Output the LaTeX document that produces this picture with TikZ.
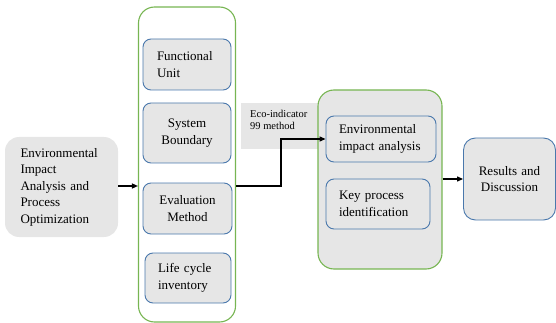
\documentclass[tikz,border=0pt]{standalone}
\usepackage{fontspec}
\setmainfont{Liberation Serif}
\usetikzlibrary{arrows.meta,calc}
\definecolor{boxgray}{HTML}{E6E6E6}
\definecolor{boxblue}{HTML}{4A78AC}
\definecolor{boxgreen}{HTML}{77B552}
\tikzset{
  x=1pt,y=-1pt,
  lbl/.style={font=\fontsize{13}{16.5}\selectfont},
  graybox/.style={lbl,fill=boxgray,rounded corners=14pt,inner sep=0pt},
  bluebox/.style={lbl,draw=boxblue,line width=0.9pt,fill=boxgray,rounded corners=8pt,inner sep=0pt},
  greenbox/.style={draw=boxgreen,line width=1.1pt,rounded corners=16pt,inner sep=0pt},
  conn/.style={line width=1.2pt,-{Triangle[length=6pt,width=5pt]}},
}
\begin{document}
\begin{tikzpicture}
\useasboundingbox (0,0) rectangle (556,323);
% left box
\node[graybox,minimum width=113pt,minimum height=100pt] (eia) at (61.5,187) {};
\node[lbl,align=left,text width=84pt,anchor=center] (eiat) at (62.5,187) {Environmental\\Impact\\Analysis and\\Process\\Optimization};
% container 1
\node[greenbox,minimum width=97pt,minimum height=315pt] (c1) at (187,164.5) {};
\node[bluebox,minimum width=88pt,minimum height=51pt,text width=60pt,align=left] (fu) at (187,64.5) {Functional\\Unit};
\node[bluebox,minimum width=88pt,minimum height=60pt,text width=80pt,align=center] (sb) at (187,133) {System\\Boundary};
\node[bluebox,minimum width=89pt,minimum height=51pt,text width=80pt,align=center] (em) at (187.5,208.5) {Evaluation\\Method};
\node[bluebox,minimum width=86pt,minimum height=50pt,text width=60pt,align=left] (lci) at (188,278) {Life cycle\\inventory};
% eco-indicator label
\node[fill=boxgray,minimum width=77pt,minimum height=46pt,inner sep=0pt] (eco) at (279.5,126) {};
\node[font=\fontsize{10.5}{12}\selectfont,align=left,anchor=north west,inner sep=0pt] (ecot) at (250,110) {Eco-indicator\\99 method};
% container 2
\node[greenbox,fill=boxgray,minimum width=124pt,minimum height=179pt] (c2) at (380,179.5) {};
\node[bluebox,minimum width=110pt,minimum height=46pt,text width=84pt,align=left] (env) at (381,139) {Environmental\\impact analysis};
\node[bluebox,minimum width=104pt,minimum height=50pt,text width=78pt,align=left] (kpi) at (378,204) {Key process\\identification};
% results
\node[bluebox,minimum width=92pt,minimum height=82pt,text width=80pt,align=center,rounded corners=12pt] (res) at (509.5,179) {Results and\\Discussion};
% connectors
\coordinate (bend) at (281,186);
\draw[conn] (eia.east |- bend) -- (c1.west |- bend);
\draw[conn] (c1.east |- bend) -- (bend) |- (env.west);
\draw[conn] (c2.east |- res.west) -- (res.west);
\end{tikzpicture}
\end{document}
